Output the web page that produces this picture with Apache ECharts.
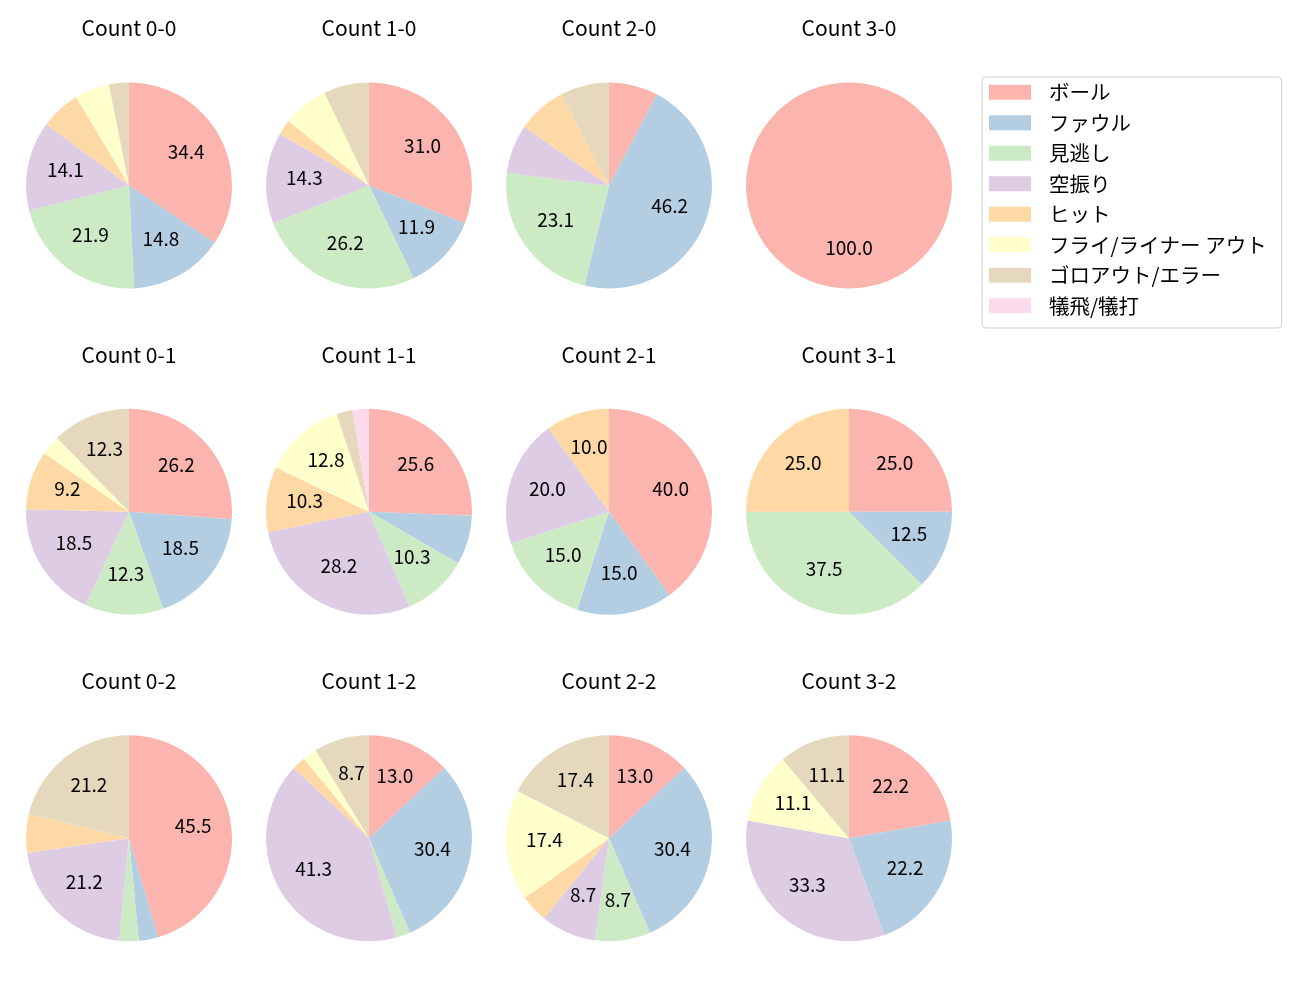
<!DOCTYPE html>
<html>
<head>
<meta charset="utf-8">
<script src="https://cdn.jsdelivr.net/npm/echarts@6/dist/echarts.min.js"></script>
<style>
html,body{margin:0;padding:0;background:#fff;}
#chart{width:1300px;height:1000px;}
</style>
</head>
<body>
<div id="chart"></div>
<script>
// Panels in order of appearance (row by row)
const countLabels = ['Count 0-0','Count 1-0','Count 2-0','Count 3-0',
                     'Count 0-1','Count 1-1','Count 2-1','Count 3-1',
                     'Count 0-2','Count 1-2','Count 2-2','Count 3-2'];
const resultNames = ['ボール','ファウル','見逃し','空振り','ヒット','フライ/ライナー アウト','ゴロアウト/エラー','犠飛/犠打'];
const resultColors = ['#fbb4ae','#b3cde3','#ccebc5','#decbe4','#fed9a6','#ffffcc','#e5d8bd','#fddaec'];

// pitch counts per result, one value per panel (same order as countLabels)
const ball      = [44, 13, 1, 1, 17, 10, 8, 2, 15,  6, 3, 2];
const foul      = [19,  5, 6, 0, 12,  3, 3, 1,  1, 14, 7, 2];
const looking   = [28, 11, 3, 0,  8,  4, 3, 3,  1,  1, 2, 0];
const swinging  = [18,  6, 1, 0, 12, 11, 4, 0,  7, 19, 2, 3];
const hit       = [ 8,  1, 1, 0,  6,  4, 2, 2,  2,  1, 1, 0];
const flyout    = [ 7,  3, 0, 0,  2,  5, 0, 0,  0,  1, 4, 1];
const groundout = [ 4,  3, 1, 0,  8,  1, 0, 0,  7,  4, 4, 1];
const sacrifice = [ 0,  0, 0, 0,  0,  1, 0, 0,  0,  0, 0, 0];

const resultSeries = [ball, foul, looking, swinging, hit, flyout, groundout, sacrifice];

const FONT = '"Noto Sans CJK JP", "Noto Sans", sans-serif';
const colX = [129, 369, 609, 849];
const rowY = [185.5, 511.7, 838.3];
const titleY = [28.5, 355, 681.5];
const R = 103;

const fillSeries = [];
const labelSeries = [];
const titles = [];

countLabels.forEach((lab, i) => {
  const col = i % 4, row = Math.floor(i / 4);
  const cx = colX[col], cy = rowY[row];
  const data = [];
  resultNames.forEach((nm, k) => {
    const v = resultSeries[k][i];
    if (v > 0) data.push({ name: nm, value: v, itemStyle: { color: resultColors[k] } });
  });
  const total = data.reduce((s, d) => s + d.value, 0);
  fillSeries.push({
    type: 'pie', center: [cx, cy], radius: R, startAngle: 90, clockwise: true,
    silent: true, animation: false, avoidLabelOverlap: false,
    label: { show: false }, labelLine: { show: false },
    emphasis: { disabled: true },
    itemStyle: { borderWidth: 0 },
    data: data
  });
  labelSeries.push({
    type: 'pie', center: [cx, cy], radius: [R * 0.2, R], startAngle: 90, clockwise: true,
    silent: true, animation: false, avoidLabelOverlap: false,
    emphasis: { disabled: true },
    itemStyle: { color: 'rgba(0,0,0,0)', borderWidth: 0 },
    label: {
      show: true, position: 'inside', color: '#000', fontSize: 19, fontFamily: FONT,
      offset: [0, -3],
      formatter: p => { const pct = p.value / total * 100; return pct >= 8 ? pct.toFixed(1) : ''; }
    },
    labelLine: { show: false },
    data: data.map(d => ({ name: d.name, value: d.value }))
  });
  titles.push({
    text: lab, left: cx, top: titleY[row] - 10.5, textAlign: 'center', padding: 0,
    textStyle: { fontSize: 21, fontWeight: 'normal', color: '#000', fontFamily: FONT, lineHeight: 21 }
  });
});

const chart = echarts.init(document.getElementById('chart'), null, { renderer: 'canvas' });
chart.setOption({
  backgroundColor: '#fff',
  animation: false,
  title: titles,
  legend: {
    data: resultNames,
    orient: 'vertical',
    left: 982, top: 77,
    padding: [5, 15, 12, 7],
    itemWidth: 42, itemHeight: 15, itemGap: 10,
    icon: 'rect',
    selectedMode: false,
    borderColor: '#d0d0d0', borderWidth: 1, borderRadius: 4,
    backgroundColor: '#fff',
    textStyle: { fontSize: 20.5, lineHeight: 20, color: '#000', fontFamily: FONT, padding: [0, 0, 0, 13] }
  },
  series: fillSeries.concat(labelSeries)
});
</script>
</body>
</html>
